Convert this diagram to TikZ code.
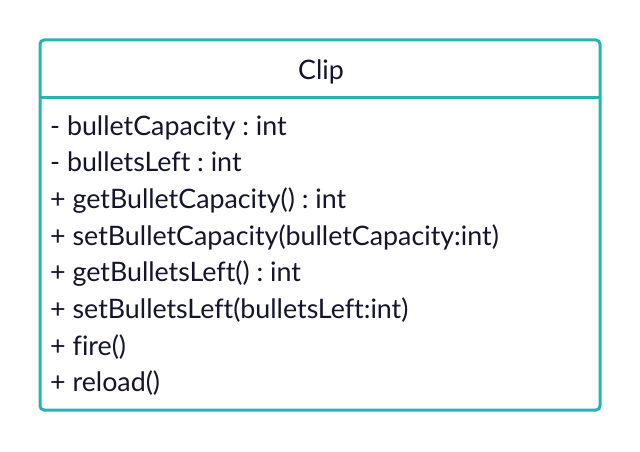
\documentclass[tikz,border=0pt]{standalone}
\usepackage{fontspec}
\setmainfont{Lato}[Ligatures=CommonOff]
\usepackage{xcolor}
\definecolor{clipteal}{HTML}{26B5AE}
\definecolor{cliptext}{HTML}{14142B}

\begin{document}
\frenchspacing
\begin{tikzpicture}[x=1pt, y=-1pt, every node/.style={font=\fontsize{26.8}{30}\selectfont, text=cliptext, inner sep=0pt}]
    \useasboundingbox (0,0) rectangle (640,452);
    \fill[white] (0,0) rectangle (640,452);
    \draw[clipteal, line width=3pt, rounded corners=4pt] (40,40) rectangle (600,410);
    \draw[clipteal, line width=3pt] (40,97) -- (600,97);
    \node[anchor=base] (title) at (321,79) {Clip};
    \foreach \i/\txt in {0/- bulletCapacity : int, 1/- bulletsLeft : int,
        2/+ getBulletCapacity() : int, 3/+ setBulletCapacity(bulletCapacity:int),
        4/+ getBulletsLeft() : int, 5/+ setBulletsLeft(bulletsLeft:int),
        6/+ fire(), 7/+ reload()}{
      \node[anchor=base west] (member\i) at (50,135+36.7*\i) {\txt};
    }
\end{tikzpicture}
\end{document}
